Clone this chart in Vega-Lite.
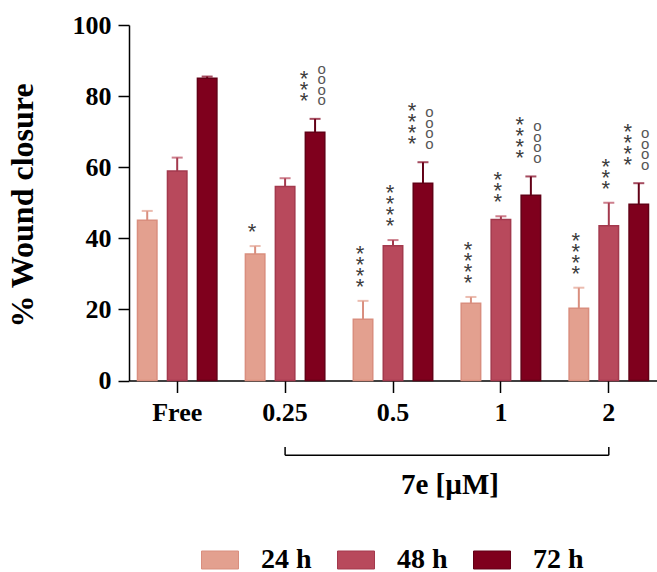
{
  "$schema": "https://vega.github.io/schema/vega-lite/v6.json",
  "width": 528,
  "height": 355.5,
  "autosize": {"type": "none"},
  "padding": {"left": 129, "top": 25, "right": 0, "bottom": 191.5},
  "background": "white",
  "config": {
    "view": {"stroke": null},
    "font": "Liberation Serif",
    "legend": {
      "orient": "none",
      "legendX": 72,
      "legendY": 516,
      "direction": "horizontal",
      "symbolType": "M-1,-0.486H1V0.486H-1Z",
      "symbolSize": 1369,
      "symbolStrokeWidth": 1,
      "symbolOpacity": 1,
      "labelFont": "Liberation Serif",
      "labelFontWeight": "bold",
      "labelFontSize": 28,
      "labelColor": "black",
      "labelOffset": 22,
      "columnPadding": 23,
      "title": null
    }
  },
  "data": {
    "values": [
      {"group": "Free", "time": "24 h", "mean": 45.1, "hi": 47.7, "stars": null, "circ": null},
      {"group": "Free", "time": "48 h", "mean": 58.9, "hi": 62.7, "stars": null, "circ": null},
      {"group": "Free", "time": "72 h", "mean": 85.0, "hi": 85.5, "stars": null, "circ": null},
      {"group": "0.25", "time": "24 h", "mean": 35.6, "hi": 37.8, "stars": "*", "circ": null},
      {"group": "0.25", "time": "48 h", "mean": 54.6, "hi": 56.9, "stars": null, "circ": null},
      {"group": "0.25", "time": "72 h", "mean": 69.8, "hi": 73.6, "stars": "*\n*\n*", "circ": "o\no\no\no"},
      {"group": "0.5", "time": "24 h", "mean": 17.2, "hi": 22.4, "stars": "*\n*\n*\n*", "circ": null},
      {"group": "0.5", "time": "48 h", "mean": 37.9, "hi": 39.5, "stars": "*\n*\n*\n*", "circ": null},
      {"group": "0.5", "time": "72 h", "mean": 55.5, "hi": 61.4, "stars": "*\n*\n*\n*", "circ": "o\no\no\no"},
      {"group": "1", "time": "24 h", "mean": 21.7, "hi": 23.5, "stars": "*\n*\n*\n*", "circ": null},
      {"group": "1", "time": "48 h", "mean": 45.3, "hi": 46.2, "stars": "*\n*\n*", "circ": null},
      {"group": "1", "time": "72 h", "mean": 52.1, "hi": 57.4, "stars": "*\n*\n*\n*", "circ": "o\no\no\no"},
      {"group": "2", "time": "24 h", "mean": 20.3, "hi": 26.1, "stars": "*\n*\n*\n*", "circ": null},
      {"group": "2", "time": "48 h", "mean": 43.5, "hi": 50.0, "stars": "*\n*\n*", "circ": null},
      {"group": "2", "time": "72 h", "mean": 49.6, "hi": 55.5, "stars": "*\n*\n*\n*", "circ": "o\no\no\no"}
    ]
  },
  "encoding": {
    "x": {
      "field": "group",
      "type": "nominal",
      "scale": {"domain": ["Free", "0.25", "0.5", "1", "2"], "paddingInner": 0.1667, "paddingOuter": 0.03},
      "axis": {
        "labelAngle": 0,
        "labelFont": "Liberation Serif",
        "labelFontWeight": "bold",
        "labelFontSize": 26,
        "labelColor": "black",
        "labelPadding": 7,
        "tickSize": 12,
        "tickWidth": 1.5,
        "tickColor": "black",
        "domainColor": "black",
        "domainWidth": 1.5,
        "title": "7e [µM]",
        "titleFont": "Liberation Serif",
        "titleFontWeight": "bold",
        "titleFontSize": 29,
        "titleColor": "black",
        "titleX": 320.5,
        "titleY": 112.5,
        "titleBaseline": "alphabetic",
        "titleAlign": "center"
      }
    },
    "xOffset": {
      "field": "time",
      "type": "nominal",
      "scale": {"paddingInner": 0.35, "paddingOuter": 0.175}
    }
  },
  "layer": [
    {
      "mark": {"type": "bar", "strokeWidth": 1.5},
      "encoding": {
        "y": {
          "field": "mean",
          "type": "quantitative",
          "scale": {"domain": [0, 100]},
          "axis": {
            "values": [0, 10, 20, 30, 40, 50, 60, 70, 80, 90, 100],
            "labelExpr": "datum.value % 20 === 0 ? datum.label : ''",
            "grid": false,
            "labelFont": "Liberation Serif",
            "labelFontWeight": "bold",
            "labelFontSize": 26,
            "labelColor": "black",
            "labelPadding": 7,
            "tickSize": 11,
            "tickWidth": 1.5,
            "tickColor": "black",
            "domainColor": "black",
            "domainWidth": 1.5,
            "title": "% Wound closure",
            "titleFont": "Liberation Serif",
            "titleFontWeight": "bold",
            "titleFontSize": 32,
            "titleColor": "black",
            "titleX": -90,
            "titleY": 180,
            "titleAngle": -90,
            "titleBaseline": "bottom",
            "titleAlign": "center"
          }
        },
        "fill": {
          "field": "time",
          "type": "nominal",
          "scale": {"domain": ["24 h", "48 h", "72 h"], "range": ["#E3A08F", "#B8495C", "#7F001D"]}
        },
        "stroke": {
          "field": "time",
          "type": "nominal",
          "scale": {"domain": ["24 h", "48 h", "72 h"], "range": ["#D98E7E", "#A3394D", "#620016"]}
        }
      }
    },
    {
      "mark": {"type": "rule", "strokeWidth": 2},
      "encoding": {
        "y": {"field": "mean", "type": "quantitative", "scale": {"domain": [0, 100]}},
        "y2": {"field": "hi"},
        "stroke": {"field": "time", "type": "nominal"}
      }
    },
    {
      "mark": {"type": "tick", "size": 11, "thickness": 2, "strokeWidth": 0},
      "encoding": {
        "y": {"field": "hi", "type": "quantitative", "scale": {"domain": [0, 100]}},
        "fill": {"field": "time", "type": "nominal"}
      }
    },
    {
      "transform": [{"filter": "datum.stars == '*'"}],
      "mark": {"type": "text", "font": "Liberation Sans", "fontSize": 22, "lineBreak": "\n", "lineHeight": 11, "baseline": "bottom", "align": "center", "dx": -3, "dy": -2, "color": "#3c3c3c"},
      "encoding": {
        "y": {"field": "hi", "type": "quantitative", "scale": {"domain": [0, 100]}},
        "text": {"field": "stars"}
      }
    },
    {
      "transform": [{"filter": "datum.stars == '*\\n*\\n*' && datum.time != '72 h'"}],
      "mark": {"type": "text", "font": "Liberation Sans", "fontSize": 22, "lineBreak": "\n", "lineHeight": 11, "baseline": "bottom", "align": "center", "dx": -3, "dy": -24, "color": "#3c3c3c"},
      "encoding": {
        "y": {"field": "hi", "type": "quantitative", "scale": {"domain": [0, 100]}},
        "text": {"field": "stars"}
      }
    },
    {
      "transform": [{"filter": "datum.stars == '*\\n*\\n*\\n*' && datum.time != '72 h'"}],
      "mark": {"type": "text", "font": "Liberation Sans", "fontSize": 22, "lineBreak": "\n", "lineHeight": 11, "baseline": "bottom", "align": "center", "dx": -3, "dy": -35, "color": "#3c3c3c"},
      "encoding": {
        "y": {"field": "hi", "type": "quantitative", "scale": {"domain": [0, 100]}},
        "text": {"field": "stars"}
      }
    },
    {
      "transform": [{"filter": "datum.stars == '*\\n*\\n*' && datum.time == '72 h'"}],
      "mark": {"type": "text", "font": "Liberation Sans", "fontSize": 22, "lineBreak": "\n", "lineHeight": 11, "baseline": "bottom", "align": "center", "dx": -11, "dy": -28, "color": "#3c3c3c"},
      "encoding": {
        "y": {"field": "hi", "type": "quantitative", "scale": {"domain": [0, 100]}},
        "text": {"field": "stars"}
      }
    },
    {
      "transform": [{"filter": "datum.stars == '*\\n*\\n*\\n*' && datum.time == '72 h'"}],
      "mark": {"type": "text", "font": "Liberation Sans", "fontSize": 22, "lineBreak": "\n", "lineHeight": 11, "baseline": "bottom", "align": "center", "dx": -11, "dy": -39, "color": "#3c3c3c"},
      "encoding": {
        "y": {"field": "hi", "type": "quantitative", "scale": {"domain": [0, 100]}},
        "text": {"field": "stars"}
      }
    },
    {
      "transform": [{"filter": "datum.circ != null"}],
      "mark": {"type": "text", "font": "Liberation Sans", "fontSize": 15, "lineBreak": "\n", "lineHeight": 10.5, "baseline": "bottom", "align": "center", "dx": 6.5, "dy": -42, "color": "#555555"},
      "encoding": {
        "y": {"field": "hi", "type": "quantitative", "scale": {"domain": [0, 100]}},
        "text": {"field": "circ"}
      }
    },
    {
      "data": {"values": [{"from": "0.25", "to": "2"}]},
      "mark": {"type": "rule", "color": "black", "strokeWidth": 1.5},
      "encoding": {
        "x": {"field": "from", "type": "nominal"},
        "x2": {"field": "to"},
        "xOffset": null,
        "y": {"datum": -21, "type": "quantitative", "scale": {"domain": [0, 100]}}
      }
    },
    {
      "data": {"values": [{"pos": "0.25"}, {"pos": "2"}]},
      "mark": {"type": "rule", "color": "black", "strokeWidth": 1.5},
      "encoding": {
        "x": {"field": "pos", "type": "nominal"},
        "xOffset": null,
        "y": {"datum": -21, "type": "quantitative", "scale": {"domain": [0, 100]}},
        "y2": {"datum": -18.7}
      }
    }
  ]
}
